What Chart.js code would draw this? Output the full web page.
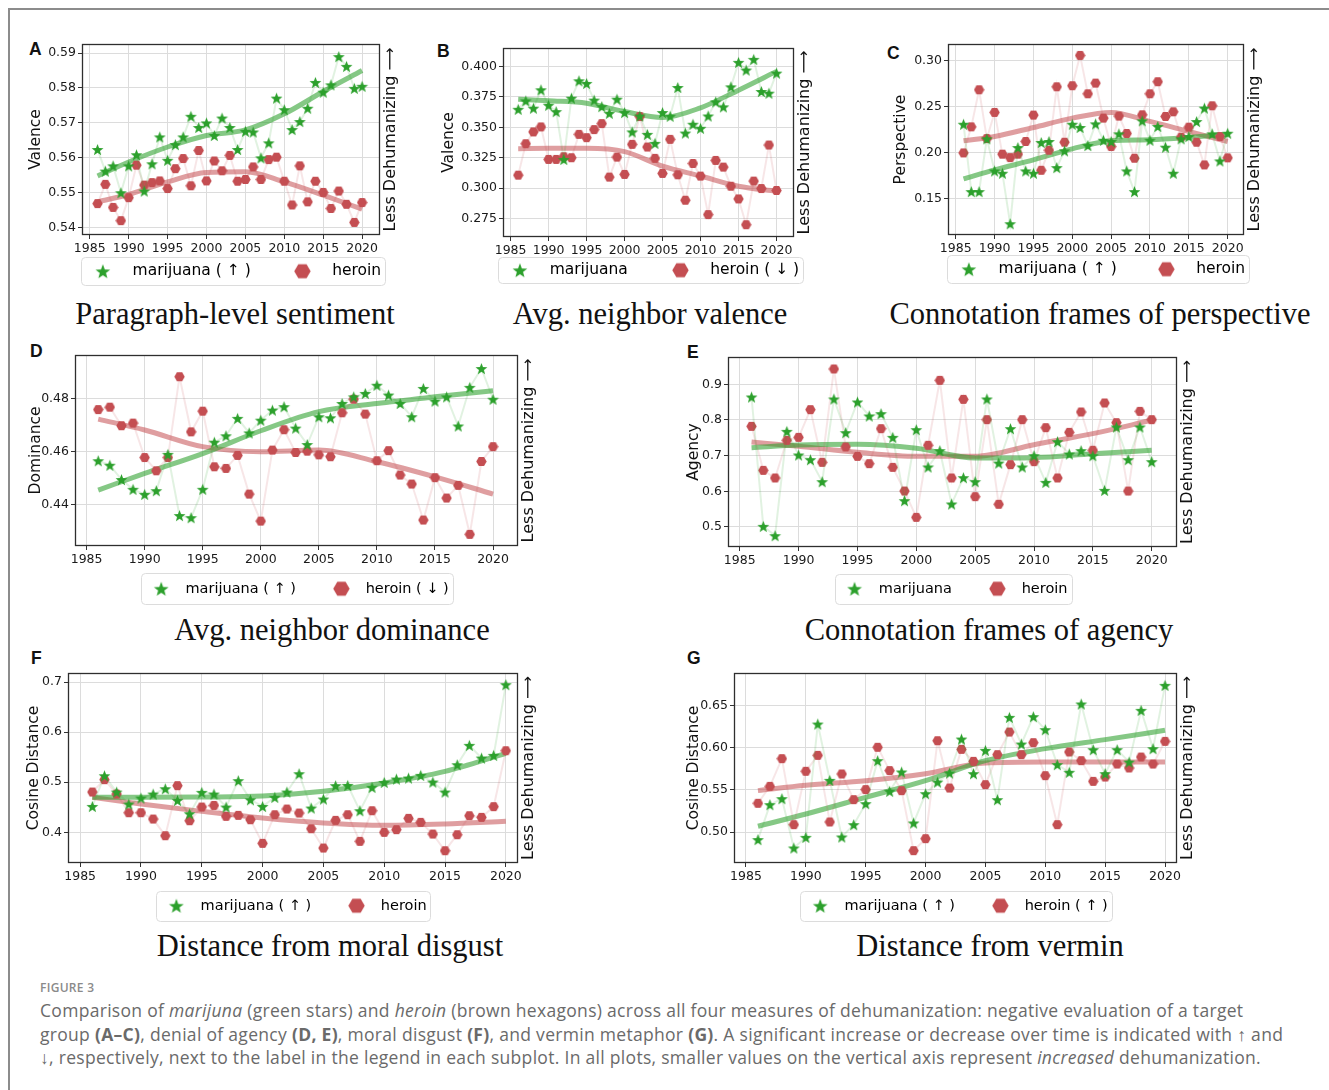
<!DOCTYPE html>
<html>
<head>
<meta charset="utf-8">
<script src="https://cdn.jsdelivr.net/npm/chart.js@4.4.1/dist/chart.umd.min.js"></script>
<style>
  body { margin: 0; width: 1329px; height: 1090px; background: #fff; position: relative; overflow: hidden; }
  .frame { position: absolute; left: 8px; top: 8px; right: 0; bottom: 0; border-top: 2px solid #8c8c8c; border-left: 2px solid #8c8c8c; }
  canvas { position: absolute; }
  .letter { position: absolute; font: bold 17.5px 'Liberation Sans'; line-height: 17.5px; color: #111; }
  .ptitle { position: absolute; width: 600px; text-align: center; font: 30.5px 'Liberation Serif'; line-height: 30.5px; white-space: nowrap; color: #111; }
  .caphead { position: absolute; left: 40px; top: 982px; font: 600 12px 'Open Sans'; line-height: 12px; color: #8a8a8a; letter-spacing: 0.3px; }
  .caption { position: absolute; left: 40px; top: 999px; font: 17.5px 'Open Sans'; line-height: 23.5px; color: #6a6a6a; white-space: nowrap; letter-spacing: 0.3px; }
  .caption b { font-weight: 700; }
</style>
</head>
<body>
<div class="frame"></div>

<div class="letter" style="left:29px;top:41px">A</div>
<div class="letter" style="left:437px;top:43px">B</div>
<div class="letter" style="left:887px;top:45px">C</div>
<div class="letter" style="left:30px;top:343px">D</div>
<div class="letter" style="left:687px;top:344px">E</div>
<div class="letter" style="left:31px;top:650px">F</div>
<div class="letter" style="left:687px;top:650px">G</div>

<div class="ptitle" style="left:-65px;top:299px">Paragraph-level sentiment</div>
<div class="ptitle" style="left:350px;top:299px">Avg. neighbor valence</div>
<div class="ptitle" style="left:800px;top:299px">Connotation frames of perspective</div>
<div class="ptitle" style="left:32px;top:615px">Avg. neighbor dominance</div>
<div class="ptitle" style="left:689px;top:615px">Connotation frames of agency</div>
<div class="ptitle" style="left:30px;top:931px">Distance from moral disgust</div>
<div class="ptitle" style="left:690px;top:931px">Distance from vermin</div>

<div class="caphead">FIGURE 3</div>
<div class="caption">
  <div>Comparison of <i>marijuna</i> (green stars) and <i>heroin</i> (brown hexagons) across all four measures of dehumanization: negative evaluation of a target</div>
  <div>group <b>(A–C)</b>, denial of agency <b>(D, E)</b>, moral disgust <b>(F)</b>, and vermin metaphor <b>(G)</b>. A significant increase or decrease over time is indicated with ↑ and</div>
  <div>↓, respectively, next to the label in the legend in each subplot. In all plots, smaller values on the vertical axis represent <i>increased</i> dehumanization.</div>
</div>

<script>
const years = [1986, 1987, 1988, 1989, 1990, 1991, 1992, 1993, 1994, 1995, 1996, 1997,
  1998, 1999, 2000, 2001, 2002, 2003, 2004, 2005, 2006, 2007, 2008, 2009, 2010, 2011,
  2012, 2013, 2014, 2015, 2016, 2017, 2018, 2019, 2020];
const trendYears = [1986, 1990, 1995, 2000, 2005, 2010, 2015, 2020];

// A - paragraph-level sentiment
const sentimentMarijuana = [0.5624, 0.5562, 0.5577, 0.5500, 0.5577, 0.5609, 0.5505, 0.5583, 0.5660, 0.5593, 0.5638, 0.5660, 0.5719, 0.5687, 0.5700, 0.5664, 0.5714, 0.5687, 0.5624, 0.5676, 0.5674, 0.5600, 0.5643, 0.5771, 0.5738, 0.5681, 0.5704, 0.5742, 0.5816, 0.5788, 0.5809, 0.5890, 0.5862, 0.5799, 0.5805];
const sentimentHeroin = [0.5469, 0.5524, 0.5458, 0.5420, 0.5486, 0.5579, 0.5522, 0.5529, 0.5534, 0.5512, 0.5569, 0.5598, 0.5520, 0.5621, 0.5534, 0.5591, 0.5563, 0.5607, 0.5533, 0.5538, 0.5574, 0.5538, 0.5595, 0.5602, 0.5533, 0.5465, 0.5577, 0.5474, 0.5533, 0.5501, 0.5455, 0.5505, 0.5467, 0.5415, 0.5472];
const sentimentTrendMarijuana = [0.5548, 0.5588, 0.5631, 0.5664, 0.5680, 0.5726, 0.5790, 0.5850];
const sentimentTrendHeroin = [0.5474, 0.5495, 0.5531, 0.5558, 0.5560, 0.5531, 0.5493, 0.5453];

// B - avg. neighbor valence
const valenceMarijuana = [0.3648, 0.3717, 0.3657, 0.3808, 0.3681, 0.3629, 0.3236, 0.3739, 0.3882, 0.3860, 0.3723, 0.3670, 0.3615, 0.3731, 0.3621, 0.3462, 0.3593, 0.3442, 0.3368, 0.3621, 0.3591, 0.3827, 0.3453, 0.3525, 0.3492, 0.3593, 0.3709, 0.3668, 0.3832, 0.4033, 0.3970, 0.4058, 0.3794, 0.3780, 0.3945];
const valenceHeroin = [0.3107, 0.3365, 0.3462, 0.3503, 0.3236, 0.3236, 0.3258, 0.3250, 0.3442, 0.3415, 0.3481, 0.3530, 0.3091, 0.3255, 0.3113, 0.3360, 0.3588, 0.3338, 0.3245, 0.3121, 0.3401, 0.3110, 0.2901, 0.3203, 0.3099, 0.2783, 0.3228, 0.3173, 0.3016, 0.2912, 0.2700, 0.3058, 0.2997, 0.3354, 0.2981];
const valenceTrendMarijuana = [0.3731, 0.3717, 0.3698, 0.3629, 0.3580, 0.3660, 0.3805, 0.3959];
const valenceTrendHeroin = [0.3324, 0.3327, 0.3327, 0.3300, 0.3181, 0.3100, 0.3016, 0.2975];

// C - connotation frames of perspective
const perspectiveMarijuana = [0.2306, 0.1573, 0.1573, 0.2147, 0.1798, 0.1773, 0.1224, 0.2052, 0.1798, 0.1773, 0.2107, 0.2118, 0.1834, 0.2016, 0.2306, 0.2270, 0.2074, 0.2310, 0.2132, 0.2118, 0.2201, 0.1798, 0.1573, 0.2343, 0.2132, 0.2281, 0.2056, 0.1773, 0.2147, 0.2172, 0.2335, 0.2481, 0.2201, 0.1907, 0.2208];
const perspectiveHeroin = [0.1994, 0.2277, 0.2680, 0.2150, 0.2434, 0.1980, 0.1943, 0.1980, 0.2118, 0.2405, 0.1805, 0.2023, 0.2713, 0.2110, 0.2724, 0.3054, 0.2637, 0.2753, 0.2372, 0.2063, 0.2394, 0.2205, 0.1936, 0.2408, 0.2637, 0.2768, 0.2390, 0.2441, 0.2165, 0.2274, 0.2110, 0.1863, 0.2506, 0.2172, 0.1940];
const perspectiveTrendMarijuana = [0.1711, 0.1809, 0.1918, 0.2038, 0.2125, 0.2136, 0.2161, 0.2197];
const perspectiveTrendHeroin = [0.2125, 0.2172, 0.2270, 0.2372, 0.2434, 0.2336, 0.2227, 0.2118];

// D - avg. neighbor dominance
const dominanceMarijuana = [0.4565, 0.4548, 0.4494, 0.4457, 0.4438, 0.4452, 0.4589, 0.4358, 0.4350, 0.4457, 0.4635, 0.4659, 0.4725, 0.4670, 0.4718, 0.4756, 0.4769, 0.4688, 0.4626, 0.4731, 0.4727, 0.4781, 0.4806, 0.4819, 0.4850, 0.4813, 0.4781, 0.4731, 0.4838, 0.4790, 0.4806, 0.4696, 0.4842, 0.4913, 0.4797];
const dominanceHeroin = [0.4758, 0.4767, 0.4697, 0.4707, 0.4577, 0.4527, 0.4577, 0.4882, 0.4674, 0.4752, 0.4542, 0.4536, 0.4585, 0.4439, 0.4337, 0.4605, 0.4682, 0.4596, 0.4601, 0.4587, 0.4580, 0.4746, 0.4797, 0.4741, 0.4565, 0.4603, 0.4511, 0.4477, 0.4341, 0.4501, 0.4424, 0.4472, 0.4287, 0.4562, 0.4618];
const dominanceTrendMarijuana = [0.4454, 0.4517, 0.4592, 0.4678, 0.4750, 0.4781, 0.4806, 0.4829];
const dominanceTrendHeroin = [0.4722, 0.4681, 0.4618, 0.4599, 0.4605, 0.4561, 0.4504, 0.4439];

// E - connotation frames of agency
const agencyMarijuana = [0.8645, 0.5019, 0.4757, 0.7682, 0.7019, 0.6888, 0.6271, 0.8589, 0.7645, 0.8505, 0.8112, 0.8178, 0.7514, 0.5738, 0.7729, 0.6682, 0.7140, 0.5645, 0.6383, 0.6271, 0.8589, 0.6794, 0.7757, 0.6682, 0.7000, 0.6252, 0.7393, 0.7047, 0.7140, 0.7000, 0.6028, 0.7804, 0.6888, 0.7804, 0.6832];
const agencyHeroin = [0.7822, 0.6589, 0.6374, 0.7430, 0.7514, 0.8290, 0.6813, 0.9430, 0.7243, 0.6981, 0.6776, 0.7757, 0.6673, 0.6009, 0.5271, 0.7290, 0.9112, 0.6374, 0.8579, 0.5850, 0.8009, 0.5636, 0.6748, 0.8009, 0.6832, 0.7785, 0.6374, 0.7654, 0.8224, 0.7150, 0.8477, 0.7925, 0.6009, 0.8243, 0.8009];
const agencyTrendMarijuana = [0.7224, 0.7299, 0.7318, 0.7206, 0.6935, 0.6944, 0.7056, 0.7150];
const agencyTrendHeroin = [0.7383, 0.7262, 0.7093, 0.6981, 0.6981, 0.7308, 0.7617, 0.7991];

// F - distance from moral disgust
const disgustMarijuana = [0.4518, 0.5130, 0.4804, 0.4565, 0.4685, 0.4764, 0.4871, 0.4638, 0.4372, 0.4798, 0.4764, 0.4505, 0.5031, 0.4651, 0.4518, 0.4698, 0.4804, 0.5170, 0.4485, 0.4665, 0.4931, 0.4937, 0.4432, 0.4898, 0.4997, 0.5064, 0.5084, 0.5137, 0.5004, 0.4804, 0.5350, 0.5736, 0.5483, 0.5536, 0.6947];
const disgustHeroin = [0.4804, 0.5051, 0.4764, 0.4392, 0.4392, 0.4265, 0.3933, 0.4931, 0.4232, 0.4505, 0.4538, 0.4319, 0.4339, 0.4252, 0.3780, 0.4352, 0.4465, 0.4385, 0.4072, 0.3687, 0.4239, 0.4352, 0.3820, 0.4432, 0.4000, 0.4053, 0.4279, 0.4199, 0.3966, 0.3633, 0.3953, 0.4332, 0.4299, 0.4512, 0.5629];
const disgustTrendMarijuana = [0.4698, 0.4698, 0.4705, 0.4725, 0.4818, 0.4984, 0.5217, 0.5576];
const disgustTrendHeroin = [0.4698, 0.4565, 0.4418, 0.4285, 0.4186, 0.4139, 0.4166, 0.4219];

// G - distance from vermin
const verminMarijuana = [0.4910, 0.5324, 0.5395, 0.4811, 0.4937, 0.6279, 0.5612, 0.4941, 0.5087, 0.5336, 0.5845, 0.5482, 0.5711, 0.5107, 0.5454, 0.5592, 0.5699, 0.6101, 0.5691, 0.5967, 0.5383, 0.6358, 0.6042, 0.6366, 0.6212, 0.5798, 0.5707, 0.6516, 0.5975, 0.5691, 0.5975, 0.5829, 0.6441, 0.5987, 0.6737];
const verminHeroin = [0.5340, 0.5541, 0.5869, 0.5087, 0.5719, 0.5908, 0.5119, 0.5687, 0.5383, 0.5502, 0.6003, 0.5727, 0.5490, 0.4779, 0.4921, 0.6081, 0.5521, 0.5979, 0.5837, 0.5561, 0.5916, 0.6184, 0.5916, 0.6058, 0.5667, 0.5087, 0.5948, 0.5845, 0.5600, 0.5651, 0.5805, 0.5758, 0.5888, 0.5805, 0.6074];
const verminTrendMarijuana = [0.5068, 0.5213, 0.5411, 0.5608, 0.5845, 0.5987, 0.6094, 0.6204];
const verminTrendHeroin = [0.5490, 0.5553, 0.5608, 0.5691, 0.5817, 0.5829, 0.5829, 0.5829];

const GREEN = '#2ca02c';
const RED = '#c44e52';
const FONT = 'DejaVu Sans';

function starImage(size) {
  const c = document.createElement('canvas');
  c.width = size; c.height = size;
  const g = c.getContext('2d');
  const R = size / 2 - 0.3, r = R * 0.42;
  g.beginPath();
  for (let i = 0; i < 10; i++) {
    const a = -Math.PI / 2 + i * Math.PI / 5;
    const d = i % 2 ? r : R;
    g.lineTo(size / 2 + d * Math.cos(a), size / 2 + size * 0.05 + d * Math.sin(a));
  }
  g.closePath();
  g.fillStyle = GREEN;
  g.fill();
  return c;
}

function hexImage(size) {
  const c = document.createElement('canvas');
  c.width = size; c.height = size;
  const g = c.getContext('2d');
  const R = size / 2 - 0.3;
  g.beginPath();
  for (let i = 0; i < 6; i++) {
    const a = i * Math.PI / 3;
    g.lineTo(size / 2 + R * Math.cos(a), size / 2 + R * Math.sin(a));
  }
  g.closePath();
  g.fillStyle = RED;
  g.fill();
  return c;
}

const smallStar = starImage(13);
const smallHex = hexImage(11);
const bigStar = starImage(16);
const bigHex = hexImage(17);

const framePlugin = {
  id: 'frame',
  afterDraw(chart, args, opts) {
    const ctx = chart.ctx;
    const a = chart.chartArea;
    ctx.save();
    ctx.strokeStyle = '#2e2e2e';
    ctx.lineWidth = 1.3;
    ctx.strokeRect(Math.round(a.left) + 0.5, Math.round(a.top) + 0.5,
      Math.round(a.right - a.left) - 1, Math.round(a.bottom - a.top) - 1);

    // legend frame
    const hb = chart.legend.legendHitBoxes;
    if (hb && hb.length) {
      const x0 = hb[0].left - opts.boxPad;
      const x1 = hb[hb.length - 1].left + hb[hb.length - 1].width + 4;
      const yc = hb[0].top + hb[0].height / 2;
      ctx.strokeStyle = '#dcdcdc';
      ctx.lineWidth = 1;
      ctx.beginPath();
      ctx.roundRect(Math.round(x0) + 0.5, Math.round(yc - opts.boxH / 2) + 0.5, Math.round(x1 - x0), opts.boxH, 4);
      ctx.stroke();
    }

    ctx.translate(a.right + 11, (a.top + a.bottom) / 2);
    ctx.rotate(-Math.PI / 2);
    ctx.font = '16px "' + FONT + '"';
    ctx.fillStyle = '#111';
    ctx.textAlign = 'center';
    ctx.textBaseline = 'middle';
    ctx.fillText('Less Dehumanizing ⟶', 0, 0);
    ctx.restore();
  }
};

const panels = [
  { area: [82, 44, 380, 235], yTitleX: 36, legendY: 271, fs: 15.5, lp: 10, gap: '    ', boxW: 44, boxPad: 0, boxH: 28,
    yTitle: 'Valence', labels: ['marijuana ( ↑ )', 'heroin'], yMin: 0.5379, yMax: 0.5926, step: 0.01, dec: 2, xMax: 2022.3,
    mj: sentimentMarijuana, he: sentimentHeroin, tmj: sentimentTrendMarijuana, the: sentimentTrendHeroin },
  { area: [503, 48, 794, 237], yTitleX: 449.5, legendY: 270, fs: 15.5, lp: 6, gap: '     ', boxW: 44, boxPad: 0, boxH: 26,
    yTitle: 'Valence', labels: ['marijuana', 'heroin ( ↓ )'], yMin: 0.2599, yMax: 0.4151, step: 0.025, dec: 3, xMax: 2022.3,
    mj: valenceMarijuana, he: valenceHeroin, tmj: valenceTrendMarijuana, the: valenceTrendHeroin },
  { area: [948, 44, 1244, 235], yTitleX: 901, legendY: 269, fs: 15.5, lp: 8, gap: '    ', boxW: 44, boxPad: 0, boxH: 28,
    yTitle: 'Perspective', labels: ['marijuana ( ↑ )', 'heroin'], yMin: 0.1101, yMax: 0.3178, step: 0.05, dec: 2, xMax: 2022.1,
    mj: perspectiveMarijuana, he: perspectiveHeroin, tmj: perspectiveTrendMarijuana, the: perspectiveTrendHeroin },
  { area: [75, 355, 518, 546], yTitleX: 36, legendY: 589, fs: 14.5, lp: 10, gap: '    ', boxW: 34, boxPad: 3, boxH: 31,
    yTitle: 'Dominance', labels: ['marijuana ( ↑ )', 'heroin ( ↓ )'], yMin: 0.4243, yMax: 0.4964, step: 0.02, dec: 2, xMax: 2022.15,
    mj: dominanceMarijuana, he: dominanceHeroin, tmj: dominanceTrendMarijuana, the: dominanceTrendHeroin },
  { area: [728, 357, 1177, 547], yTitleX: 694, legendY: 589, fs: 14.5, lp: 10, gap: '    ', boxW: 34, boxPad: 3, boxH: 30,
    yTitle: 'Agency', labels: ['marijuana', 'heroin'], yMin: 0.4439, yMax: 0.9766, step: 0.1, dec: 1, xMax: 2022.15,
    mj: agencyMarijuana, he: agencyHeroin, tmj: agencyTrendMarijuana, the: agencyTrendHeroin },
  { area: [68, 673, 518, 863], yTitleX: 34.5, legendY: 906, fs: 14.5, lp: 10, gap: '    ', boxW: 34, boxPad: 3, boxH: 30,
    yTitle: 'Cosine Distance', labels: ['marijuana ( ↑ )', 'heroin'], yMin: 0.3388, yMax: 0.718, step: 0.1, dec: 1, xMax: 2021,
    mj: disgustMarijuana, he: disgustHeroin, tmj: disgustTrendMarijuana, the: disgustTrendHeroin },
  { area: [734, 673, 1177, 863], yTitleX: 694.5, legendY: 906, fs: 14.5, lp: 10, gap: '    ', boxW: 34, boxPad: 3, boxH: 30,
    yTitle: 'Cosine Distance', labels: ['marijuana ( ↑ )', 'heroin ( ↑ )'], yMin: 0.4633, yMax: 0.6883, step: 0.05, dec: 2, xMax: 2021,
    mj: verminMarijuana, he: verminHeroin, tmj: verminTrendMarijuana, the: verminTrendHeroin }
];

function drawPanel(p) {
  const [L, T, R, B] = p.area;
  const fs = p.fs;
  const M = Math.round(L - p.yTitleX + 13.3);
  const W = R - L + 2 * M;
  // legend items sit at legend.top + padding + fs/2
  const H = Math.round(p.legendY - T + fs / 2 + 20);
  const xh = H - 10 - (B - T) - fs - p.lp - 10;

  const canvas = document.createElement('canvas');
  canvas.width = W;
  canvas.height = H;
  canvas.style.left = (L - M) + 'px';
  canvas.style.top = (T - 10) + 'px';
  document.body.appendChild(canvas);

  const tickFont = { family: FONT, size: 12.5 };
  const grid = { color: '#dcdcdc', lineWidth: 1, tickColor: '#333', tickLength: 4 };

  new Chart(canvas, {
    type: 'scatter',
    data: {
      datasets: [
        { label: p.labels[0], data: years.map((y, i) => ({ x: y, y: p.mj[i] })),
          showLine: true, borderColor: 'rgba(44,160,44,0.14)', borderWidth: 2,
          pointStyle: smallStar, pointRadius: 5 },
        { label: p.labels[1], data: years.map((y, i) => ({ x: y, y: p.he[i] })),
          showLine: true, borderColor: 'rgba(196,78,82,0.14)', borderWidth: 2,
          pointStyle: smallHex, pointRadius: 5 },
        { label: 'marijuana trend', data: trendYears.map((y, i) => ({ x: y, y: p.tmj[i] })),
          showLine: true, pointRadius: 0, borderColor: 'rgba(44,160,44,0.58)', borderWidth: 5,
          cubicInterpolationMode: 'monotone' },
        { label: 'heroin trend', data: trendYears.map((y, i) => ({ x: y, y: p.the[i] })),
          showLine: true, pointRadius: 0, borderColor: 'rgba(196,78,82,0.55)', borderWidth: 5,
          cubicInterpolationMode: 'monotone' }
      ]
    },
    options: {
      responsive: false,
      animation: false,
      events: [],
      layout: { padding: { top: 10, left: 0, right: 0, bottom: 0 } },
      scales: {
        x: {
          type: 'linear', min: 1984, max: p.xMax,
          afterFit: s => { s.height = xh; },
          ticks: { stepSize: 5, includeBounds: false, autoSkip: false, maxRotation: 0,
            font: tickFont, color: '#1a1a1a', padding: 2, callback: v => String(v) },
          grid: grid, border: { display: false }
        },
        y: {
          min: p.yMin, max: p.yMax,
          afterFit: s => { s.width = M; },
          ticks: { stepSize: p.step, includeBounds: false, font: tickFont, color: '#1a1a1a', padding: 2,
            callback: v => v.toFixed(p.dec) },
          title: { display: true, text: p.yTitle, font: { family: FONT, size: 15.5 }, color: '#111' },
          grid: grid, border: { display: false }
        },
        yr: {
          position: 'right', display: true,
          afterFit: s => { s.width = M; },
          ticks: { display: false }, grid: { display: false }, border: { display: false }
        }
      },
      plugins: {
        tooltip: { enabled: false },
        title: { display: false },
        frame: { boxPad: p.boxPad, boxH: p.boxH },
        legend: {
          position: 'bottom',
          labels: {
            usePointStyle: true, pointStyleWidth: p.boxW, padding: p.lp,
            font: { family: FONT, size: fs }, color: '#111',
            generateLabels: () => [
              { text: p.labels[0] + p.gap, pointStyle: bigStar, datasetIndex: 0, hidden: false,
                lineWidth: 0, strokeStyle: 'rgba(0,0,0,0)', fillStyle: GREEN },
              { text: p.labels[1], pointStyle: bigHex, datasetIndex: 1, hidden: false,
                lineWidth: 0, strokeStyle: 'rgba(0,0,0,0)', fillStyle: RED }
            ]
          }
        }
      }
    },
    plugins: [framePlugin]
  });
}

panels.forEach(drawPanel);
</script>
</body>
</html>
